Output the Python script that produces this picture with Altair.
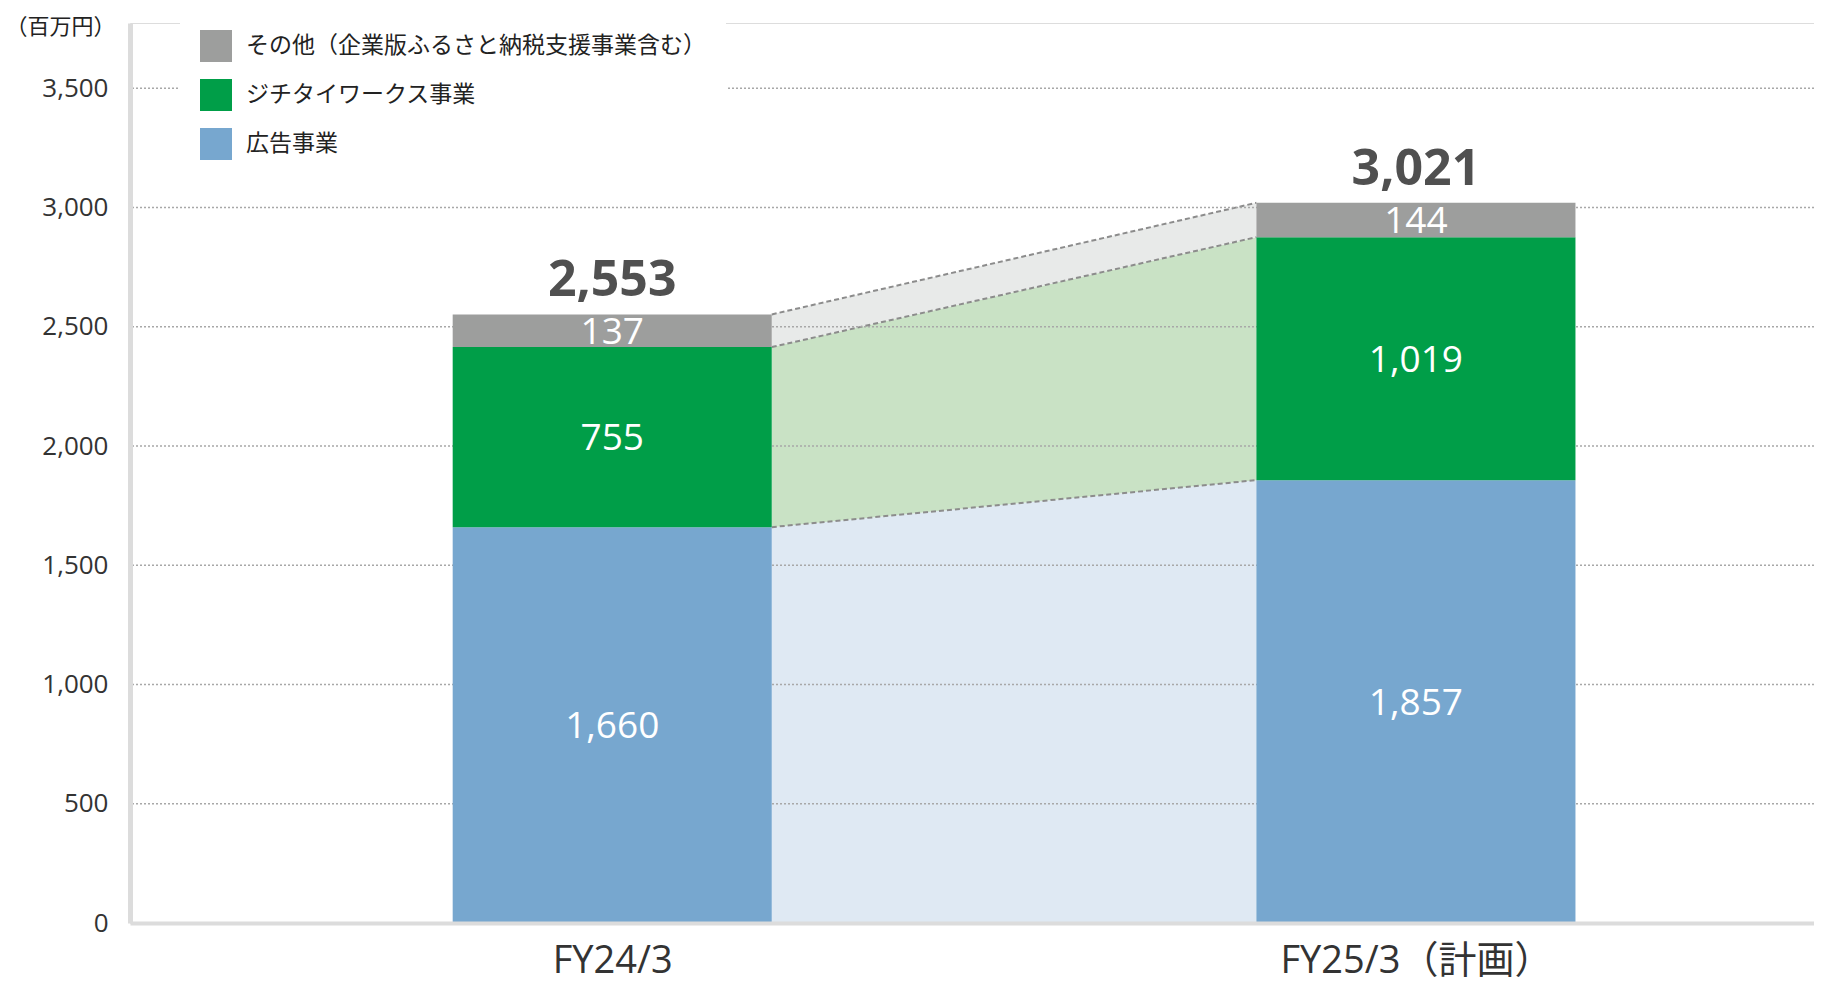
import json
import altair as alt
import pandas as pd

# ---------------- data ----------------
categories = ["FY24/3", "FY25/3（計画）"]
segments = ["広告事業", "ジチタイワークス事業", "その他（企業版ふるさと納税支援事業含む）"]
ad_values = [1660, 1857]
jichitai_values = [755, 1019]
other_values = [137, 144]
totals = [2553, 3021]
y_ticks = [0, 500, 1000, 1500, 2000, 2500, 3000, 3500]
unit_label = "（百万円）"

# ---------------- styles ----------------
FONT = "'Open Sans', 'Noto Sans CJK JP', sans-serif"
bar_colors = ["#77a7cf", "#009e48", "#9d9e9d"]
light_colors = ["#dfe9f3", "#c9e2c5", "#e8eae9"]
HALF = 0.1985          # half bar width, in category units
X_DOMAIN = [-0.600, 1.4953]
Y_MAX = 3774

series = [ad_values, jichitai_values, other_values]
rows = []
for i, cat in enumerate(categories):
    base = 0
    for s, seg in enumerate(segments):
        v = series[s][i]
        rows.append({"cat": cat, "pos": i, "segment": seg, "order": s,
                     "y0": base, "y1": base + v, "value": v})
        base += v
df = pd.DataFrame(rows)

# connector polygons between bar edges
conn_rows = []
for r in rows:
    edge = 1 if r["pos"] == 0 else -1
    conn_rows.append({**r, "edge": edge})
conn = pd.DataFrame(conn_rows)

tot = pd.DataFrame({"cat": categories, "pos": list(range(len(categories))), "total": totals})
grid = pd.DataFrame({"y": [t for t in y_ticks if t > 0]})

xscale = alt.Scale(domain=X_DOMAIN, nice=False, zero=False)
yscale = alt.Scale(domain=[0, Y_MAX], nice=False, zero=True)

label_expr = json.dumps(categories, ensure_ascii=False) + "[datum.value]"

x_axis = alt.Axis(values=[0, 1], labelExpr=label_expr, title=None, ticks=False, grid=False,
                  labelFontSize=38, labelColor="#333333", labelPadding=19, labelLimit=1000,
                  domainColor="#dcdcdc", domainWidth=4, labelFlush=False, zindex=1,
                  labelFont=FONT, labelOverlap=False)
y_axis = alt.Axis(values=y_ticks, format=",d", ticks=False, grid=False,
                  labelFontSize=26, labelColor="#333333", labelPadding=22,
                  domainColor="#dcdcdc", domainWidth=5, zindex=1, labelFont=FONT,
                  title=unit_label, titleAngle=0, titleX=-70, titleY=3,
                  titleAlign="center", titleBaseline="middle", titleFontSize=22,
                  titleFontWeight="normal", titleColor="#222222", titleFont=FONT)

# connector areas
areas = alt.Chart(conn).transform_calculate(
    xe=f"datum.pos + datum.edge * {HALF}"
).mark_area(opacity=1).encode(
    x=alt.X("xe:Q", scale=xscale, axis=x_axis),
    y=alt.Y("y1:Q", scale=yscale, axis=y_axis, stack=None),
    y2="y0:Q",
    color=alt.Color("segment:N", scale=alt.Scale(domain=segments, range=light_colors), legend=None),
    detail="segment:N",
)

dash_lines = alt.Chart(conn).transform_calculate(
    xe=f"datum.pos + datum.edge * {HALF}"
).mark_line(strokeDash=[5, 3], strokeWidth=2, color="#8c8c8c").encode(
    x=alt.X("xe:Q", scale=xscale),
    y=alt.Y("y1:Q", scale=yscale, stack=None),
    detail="segment:N",
)

gridlines = alt.Chart(grid).mark_rule(strokeDash=[2, 2], strokeWidth=1.5, color="#a8a8a8").encode(
    y=alt.Y("y:Q", scale=yscale)
)

bars = alt.Chart(df).transform_calculate(
    xa=f"datum.pos - {HALF}", xb=f"datum.pos + {HALF}"
).mark_bar().encode(
    x=alt.X("xa:Q", scale=xscale),
    x2="xb:Q",
    y=alt.Y("y0:Q", scale=yscale, stack=None),
    y2="y1:Q",
    color=alt.Color("segment:N",
                    scale=alt.Scale(domain=segments, range=bar_colors),
                    legend=alt.Legend(title=None, orient="none", legendX=50, legendY=-13,
                                      symbolType="square", symbolSize=1024, symbolStrokeWidth=0,
                                      labelFontSize=23, labelColor="#222222", labelFont=FONT,
                                      labelOffset=14, rowPadding=17, labelLimit=1000,
                                      fillColor="white", padding=20,
                                      values=list(reversed(segments)))),
)

seg_labels = alt.Chart(df).transform_calculate(
    ymid="(datum.y0 + datum.y1) / 2"
).mark_text(color="white", fontSize=37, font=FONT, baseline="middle", align="center", dy=2).encode(
    x=alt.X("pos:Q", scale=xscale),
    y=alt.Y("ymid:Q", scale=yscale),
    text=alt.Text("value:Q", format=",d"),
)

total_labels = alt.Chart(tot).mark_text(color="#505050", fontSize=50, fontWeight="bold", font=FONT,
                                         baseline="alphabetic", align="center", dy=-18).encode(
    x=alt.X("pos:Q", scale=xscale),
    y=alt.Y("total:Q", scale=yscale),
    text=alt.Text("total:Q", format=",d"),
)

chart = alt.layer(areas, dash_lines, gridlines, bars, seg_labels, total_labels).resolve_scale(
    color="independent"
).properties(
    width=1684, height=900,
    autosize=alt.AutoSizeParams(type="none"),
    padding={"left": 122, "top": 15, "right": 0, "bottom": 60},
).configure_view(stroke=None).configure(font=FONT)

chart.save("out.html", embed_options={"renderer": "svg", "actions": False})
